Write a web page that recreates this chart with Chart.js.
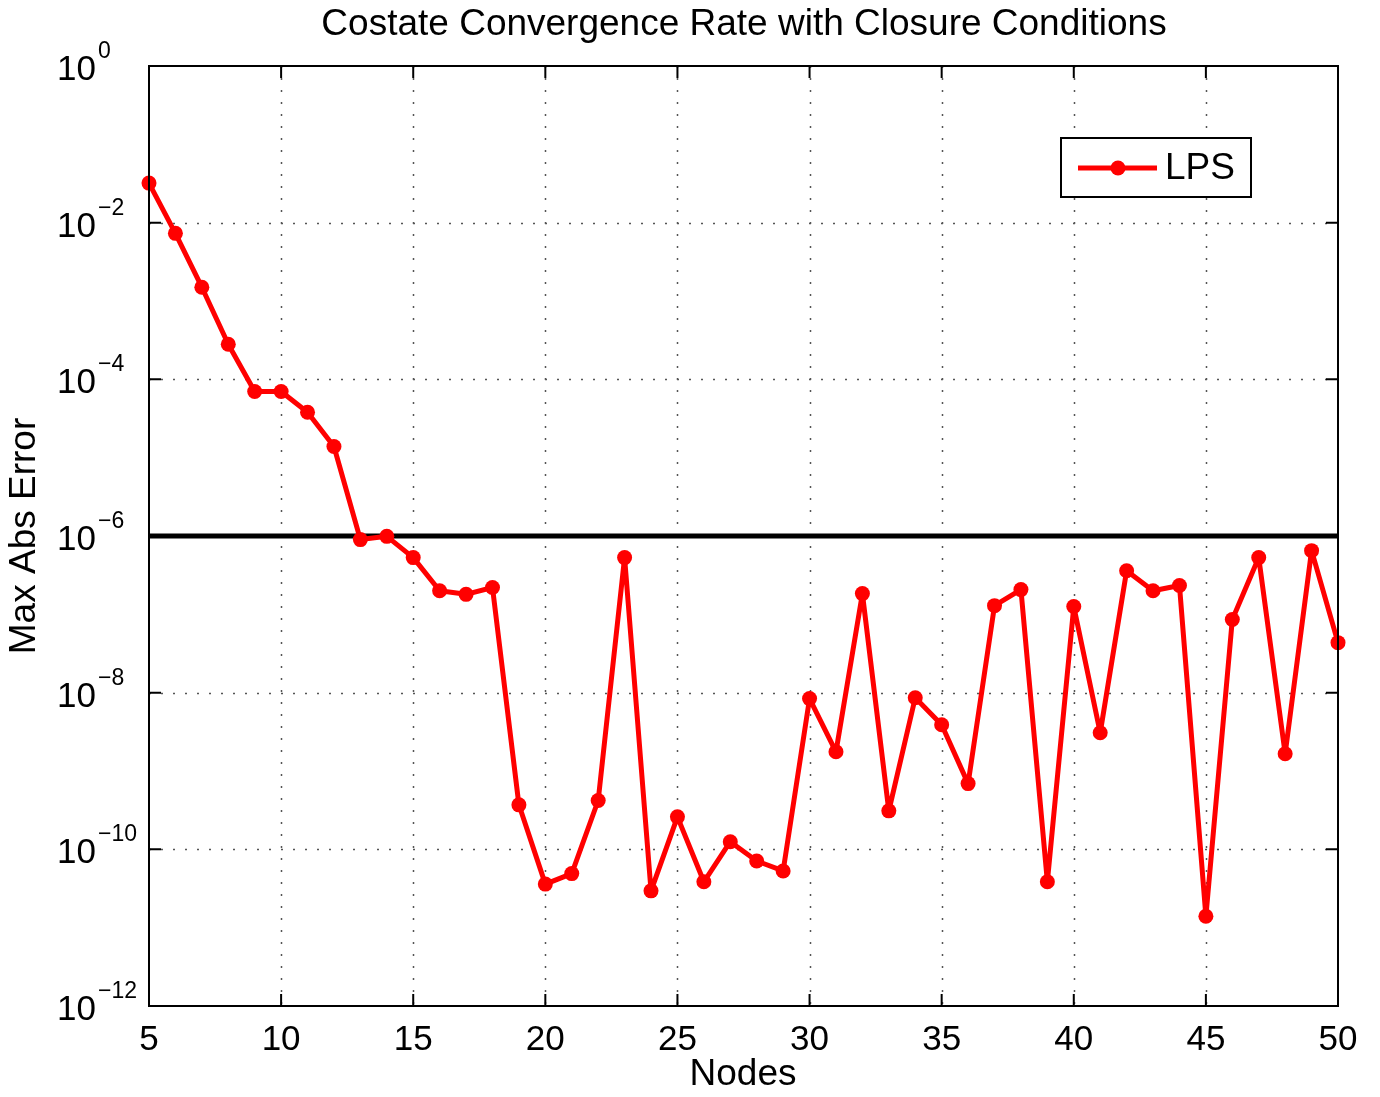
<!DOCTYPE html>
<html>
<head>
<meta charset="utf-8">
<script src="https://cdn.jsdelivr.net/npm/chart.js@4/dist/chart.umd.min.js"></script>
<style>
  body { margin: 0; background: #fff; }
  #wrap { width: 1380px; height: 1097px; }
</style>
</head>
<body>
<div id="wrap"><canvas id="graphique"></canvas></div>
<script>
// donnees
var nodes = [5, 6, 7, 8, 9, 10, 11, 12, 13, 14, 15, 16, 17, 18, 19, 20, 21, 22, 23, 24, 25, 26, 27,
  28, 29, 30, 31, 32, 33, 34, 35, 36, 37, 38, 39, 40, 41, 42, 43, 44, 45, 46, 47, 48, 49, 50];
var erreurLPS = [3.2e-2, 7.3e-3, 1.5e-3, 2.8e-4, 7.0e-5, 7.0e-5, 3.8e-5, 1.39e-5, 9.0e-7, 9.9e-7,
  5.3e-7, 2.0e-7, 1.8e-7, 2.2e-7, 3.7e-10, 3.6e-11, 4.9e-11, 4.2e-10, 5.3e-7, 2.95e-11,
  2.6e-10, 3.85e-11, 1.25e-10, 7.1e-11, 5.3e-11, 8.4e-9, 1.76e-9, 1.84e-7, 3.1e-10, 8.6e-9,
  3.9e-9, 6.9e-10, 1.29e-7, 2.07e-7, 3.85e-11, 1.26e-7, 3.08e-9, 3.6e-7, 2.0e-7, 2.33e-7,
  1.4e-11, 8.6e-8, 5.3e-7, 1.66e-9, 6.5e-7, 4.35e-8];
var tolerance = 1e-6;
var xTicks = [5, 10, 15, 20, 25, 30, 35, 40, 45, 50];
var yExposants = [0, -2, -4, -6, -8, -10, -12];

var police = '"Liberation Sans", Arial, sans-serif';

var pointsLPS = nodes.map(function (n, i) { return { x: n, y: erreurLPS[i] }; });
var ligneTol = [{ x: nodes[0], y: tolerance }, { x: nodes[nodes.length - 1], y: tolerance }];

// grille pointillee + cadre + graduations + textes facon matlab
var deco = {
  id: 'deco',
  beforeDatasetsDraw: function (chart) {
    var ctx = chart.ctx, a = chart.chartArea;
    var sx = chart.scales.x, sy = chart.scales.y;
    ctx.save();
    ctx.strokeStyle = '#555';
    ctx.lineWidth = 1.5;
    ctx.setLineDash([2, 10]);
    xTicks.forEach(function (t) {
      var px = Math.round(sx.getPixelForValue(t)) + 0.5;
      if (t === 5 || t === 50) return;
      ctx.beginPath(); ctx.moveTo(px, a.top); ctx.lineTo(px, a.bottom); ctx.stroke();
    });
    yExposants.forEach(function (e) {
      var py = Math.round(sy.getPixelForValue(Math.pow(10, e))) + 0.5;
      if (e === 0 || e === -12) return;
      ctx.beginPath(); ctx.moveTo(a.left, py); ctx.lineTo(a.right, py); ctx.stroke();
    });
    ctx.restore();
  },
  afterDraw: function (chart) {
    var ctx = chart.ctx, a = chart.chartArea;
    var sx = chart.scales.x, sy = chart.scales.y;
    ctx.save();
    ctx.strokeStyle = '#000';
    ctx.lineWidth = 2;
    ctx.strokeRect(a.left, a.top, a.right - a.left, a.bottom - a.top);
    // graduations vers l'interieur
    var tl = 12;
    ctx.beginPath();
    xTicks.forEach(function (t) {
      var px = sx.getPixelForValue(t);
      ctx.moveTo(px, a.bottom); ctx.lineTo(px, a.bottom - tl);
      ctx.moveTo(px, a.top); ctx.lineTo(px, a.top + tl);
    });
    yExposants.forEach(function (e) {
      var py = sy.getPixelForValue(Math.pow(10, e));
      ctx.moveTo(a.left, py); ctx.lineTo(a.left + tl, py);
      ctx.moveTo(a.right, py); ctx.lineTo(a.right - tl, py);
    });
    ctx.stroke();

    ctx.fillStyle = '#000';
    // etiquettes x
    ctx.font = '35px ' + police;
    ctx.textAlign = 'center';
    ctx.textBaseline = 'alphabetic';
    xTicks.forEach(function (t) {
      ctx.fillText(String(t), sx.getPixelForValue(t), a.bottom + 44);
    });
    // etiquettes y : 10 + exposant
    yExposants.forEach(function (e) {
      var py = sy.getPixelForValue(Math.pow(10, e));
      var exp = e === 0 ? '0' : '\u2212' + String(-e);
      ctx.textAlign = 'left';
      ctx.textBaseline = 'alphabetic';
      ctx.font = '35px ' + police;
      ctx.fillText('10', 57, py + 14);
      ctx.font = '23px ' + police;
      ctx.fillText(exp, 98, py - 8);
    });
    // titres
    ctx.textAlign = 'center';
    ctx.textBaseline = 'middle';
    ctx.font = '37px ' + police;
    ctx.fillText('Costate Convergence Rate with Closure Conditions', 744, 25);
    ctx.font = '37px ' + police;
    ctx.fillText('Nodes', 743, 1075);
    ctx.save();
    ctx.translate(25, 536);
    ctx.rotate(-Math.PI / 2);
    ctx.fillText('Max Abs Error', 0, 0);
    ctx.restore();

    // legende
    var lx = 1061, ly = 138, lw = 190, lh = 59;
    ctx.fillStyle = '#fff';
    ctx.fillRect(lx, ly, lw, lh);
    ctx.lineWidth = 2;
    ctx.strokeRect(lx, ly, lw, lh);
    ctx.strokeStyle = '#ff0000';
    ctx.lineWidth = 5;
    ctx.beginPath(); ctx.moveTo(lx + 17, ly + 30); ctx.lineTo(lx + 96, ly + 30); ctx.stroke();
    ctx.fillStyle = '#ff0000';
    ctx.beginPath(); ctx.arc(lx + 57, ly + 30, 7.5, 0, Math.PI * 2); ctx.fill();
    ctx.fillStyle = '#000';
    ctx.font = '37px ' + police;
    ctx.textAlign = 'left';
    ctx.fillText('LPS', lx + 104, ly + 31);
    ctx.restore();
  }
};

var ctx = document.getElementById('graphique').getContext('2d');
var graphique = new Chart(ctx, {
  type: 'line',
  data: {
    datasets: [{
      label: 'LPS',
      data: pointsLPS,
      borderColor: '#ff0000',
      backgroundColor: '#ff0000',
      borderWidth: 5,
      borderJoinStyle: 'round',
      pointRadius: 7.5,
      pointBorderWidth: 0,
      tension: 0
    }, {
      label: 'tol',
      data: ligneTol,
      borderColor: '#000',
      borderWidth: 5,
      pointRadius: 0,
      tension: 0
    }]
  },
  options: {
    responsive: true,
    maintainAspectRatio: false,
    animation: false,
    clip: false,
    layout: { padding: { left: 141, right: 42, top: 66, bottom: 83 } },
    plugins: { legend: { display: false }, tooltip: { enabled: false }, title: { display: false } },
    scales: {
      x: {
        type: 'linear', min: 5, max: 50,
        ticks: { display: false }, grid: { display: false }, border: { display: false }
      },
      y: {
        type: 'logarithmic', min: 1e-12, max: 1,
        ticks: { display: false }, grid: { display: false }, border: { display: false }
      }
    }
  },
  plugins: [deco]
});
</script>
</body>
</html>
